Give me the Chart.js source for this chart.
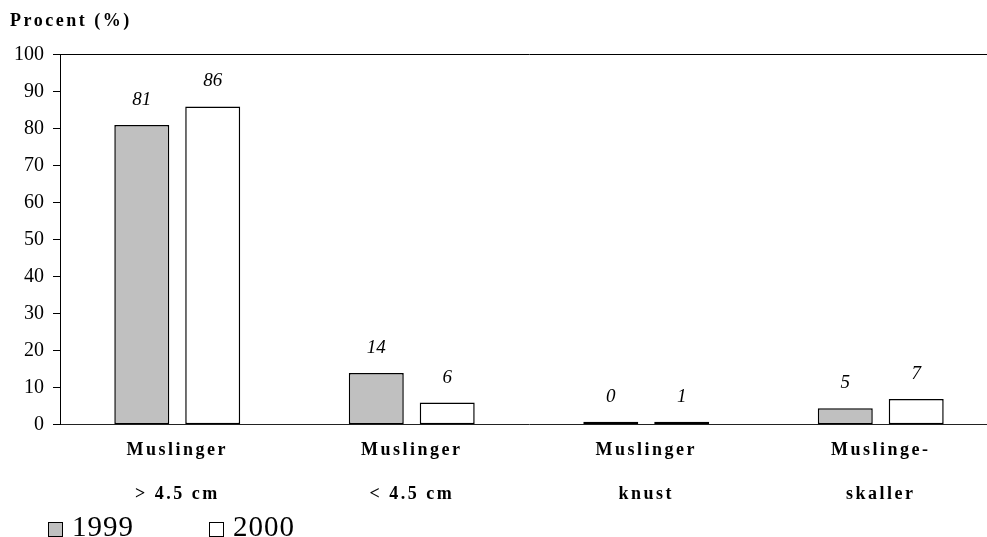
<!DOCTYPE html>
<html>
<head>
<meta charset="utf-8">
<script src="https://cdn.jsdelivr.net/npm/chart.js@4.4.1/dist/chart.umd.min.js"></script>
<style>
  html, body { margin: 0; padding: 0; background: #fff; overflow: hidden; }
  #wrap { position: relative; width: 1000px; height: 537px; }
  #legend { position: absolute; left: 48px; top: 512px; font-family: "Liberation Serif", serif; font-size: 29px; line-height: 28px; letter-spacing: 1px; display: flex; }
  #legend .item { display: flex; align-items: center; }
  #legend .box { width: 13px; height: 13px; border: 1px solid #000; margin-right: 9px; margin-top: 6px; }
</style>
</head>
<body>
<div id="wrap">
  <canvas id="myChart" width="1000" height="537"></canvas>
  <div id="legend"></div>
</div>
<script>
// data
const categories = [
  ['Muslinger', '> 4.5 cm'],
  ['Muslinger', '< 4.5 cm'],
  ['Muslinger', 'knust'],
  ['Muslinge-', 'skaller']
];
const seriesNames = ['1999', '2000'];
const values1999 = [81, 14, 0.4, 4.5];
const values2000 = [86, 6, 0.6, 7];
const yTicks = [0, 10, 20, 30, 40, 50, 60, 70, 80, 90, 100];

const serif = '"Liberation Serif", "Times New Roman", serif';

// italic numbers above bars
const valueLabels = {
  id: 'valueLabels',
  afterDatasetsDraw(chart) {
    const ctx = chart.ctx;
    ctx.save();
    ctx.font = 'italic 19px ' + serif;
    ctx.fillStyle = '#000';
    ctx.textAlign = 'center';
    ctx.textBaseline = 'middle';
    chart.data.datasets.forEach((ds, i) => {
      chart.getDatasetMeta(i).data.forEach((bar, j) => {
        ctx.fillText(String(Math.round(ds.data[j])), bar.x, bar.y - 25);
      });
    });
    ctx.restore();
  }
};

// spaced bold text for title + category labels (y labels are drawn later, unspaced)
const spacing = {
  id: 'spacing',
  beforeDraw(chart) { chart.ctx.letterSpacing = '2.5px'; },
  beforeDatasetsDraw(chart) { chart.ctx.letterSpacing = '0px'; }
};

const ctx = document.getElementById('myChart').getContext('2d');
const chart = new Chart(ctx, {
  type: 'bar',
  data: {
    labels: categories,
    datasets: [{
      label: seriesNames[0],
      data: values1999,
      backgroundColor: '#c0c0c0',
      borderColor: '#000',
      borderWidth: 1.5,
      borderSkipped: false,
      minBarLength: 3,
      categoryPercentage: 0.605,
      barPercentage: 0.775
    }, {
      label: seriesNames[1],
      data: values2000,
      backgroundColor: '#fff',
      borderColor: '#000',
      borderWidth: 1.5,
      borderSkipped: false,
      minBarLength: 3,
      categoryPercentage: 0.605,
      barPercentage: 0.775
    }]
  },
  options: {
    responsive: false,
    animation: false,
    layout: { padding: { left: 10, right: 2, top: 0, bottom: 18 } },
    plugins: {
      legend: { display: false },
      tooltip: { enabled: false },
      title: {
        display: true,
        text: 'Procent (%)',
        align: 'start',
        color: '#000',
        font: { family: serif, size: 18, weight: 'bold', lineHeight: 1.2 },
        padding: { top: 11, bottom: 22 }
      }
    },
    scales: {
      x: {
        grid: { display: false, drawTicks: false },
        border: { color: '#222', width: 1 },
        ticks: {
          color: '#000',
          padding: 3,
          maxRotation: 0,
          autoSkip: false,
          font: { family: serif, size: 18, weight: 'bold', lineHeight: 2.45 }
        }
      },
      y: {
        min: 0,
        max: 100,
        afterBuildTicks(scale) { scale.ticks = yTicks.map(v => ({ value: v })); },
        afterFit(scale) { scale.width = 50; },
        grid: {
          color: c => (c.tick && c.tick.value === 100 ? '#000' : 'rgba(0,0,0,0)'),
          tickColor: '#000',
          tickLength: 7,
          lineWidth: 1
        },
        border: { color: '#000', width: 1 },
        ticks: {
          z: 1,
          color: '#000',
          padding: 9,
          font: { family: serif, size: 20 }
        }
      }
    }
  },
  plugins: [spacing, valueLabels]
});

// legend built from the datasets
const legend = document.getElementById('legend');
chart.data.datasets.forEach((ds, i) => {
  const item = document.createElement('div');
  item.className = 'item';
  item.style.width = i === 0 ? '161px' : 'auto';
  const box = document.createElement('span');
  box.className = 'box';
  box.style.background = ds.backgroundColor;
  const txt = document.createElement('span');
  txt.textContent = ds.label;
  item.appendChild(box);
  item.appendChild(txt);
  legend.appendChild(item);
});
</script>
</body>
</html>
